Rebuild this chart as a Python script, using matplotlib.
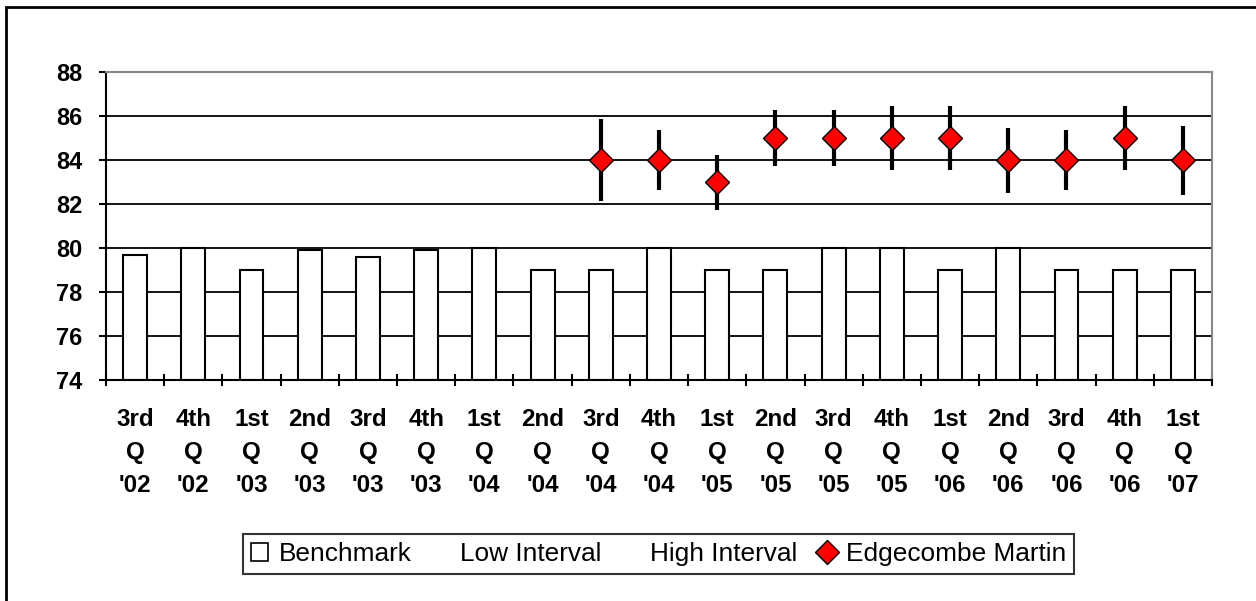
import matplotlib
matplotlib.use("Agg")
import matplotlib.pyplot as plt
import numpy as np
from matplotlib.patches import Patch, Rectangle
from matplotlib.lines import Line2D

plt.rcParams['font.family'] = ['Liberation Sans', 'DejaVu Sans']

categories = ["3rd\nQ\n'02", "4th\nQ\n'02", "1st\nQ\n'03", "2nd\nQ\n'03", "3rd\nQ\n'03",
              "4th\nQ\n'03", "1st\nQ\n'04", "2nd\nQ\n'04", "3rd\nQ\n'04", "4th\nQ\n'04",
              "1st\nQ\n'05", "2nd\nQ\n'05", "3rd\nQ\n'05", "4th\nQ\n'05", "1st\nQ\n'06",
              "2nd\nQ\n'06", "3rd\nQ\n'06", "4th\nQ\n'06", "1st\nQ\n'07"]
benchmark = [79.7, 80, 79, 79.9, 79.6, 79.9, 80, 79, 79, 80, 79, 79, 80, 80, 79, 80, 79, 79, 79]
edgecombe_idx = [8, 9, 10, 11, 12, 13, 14, 15, 16, 17, 18]
edgecombe = [84, 84, 83, 85, 85, 85, 85, 84, 84, 85, 84]
high_interval = [85.86, 85.36, 84.25, 86.27, 86.27, 86.45, 86.45, 85.45, 85.36, 86.45, 85.56]
low_interval = [82.12, 82.62, 81.72, 83.71, 83.71, 83.53, 83.53, 82.52, 82.62, 83.53, 82.42]
yticks = [74, 76, 78, 80, 82, 84, 86, 88]

W, H = 1256, 601
fig = plt.figure(figsize=(W/100, H/100), dpi=100)
ax = fig.add_axes([106/W, 1-380/H, (1212-106)/W, (380-72)/H])

x = np.arange(len(categories))
ax.bar(x, [b - 74 for b in benchmark], bottom=74, width=0.41, color='white',
       edgecolor='black', linewidth=1.5, zorder=2)

ex = np.array(edgecombe_idx)
ev = np.array(edgecombe)
yerr = [ev - np.array(low_interval), np.array(high_interval) - ev]
ax.errorbar(ex, ev, yerr=yerr, fmt='none', ecolor='black', elinewidth=3, capsize=0, zorder=3)
ax.plot(ex, ev, linestyle='none', marker='D', markersize=12, markerfacecolor='#ff0000',
        markeredgecolor='black', markeredgewidth=1.0, zorder=4)

ax.set_xlim(-0.5, len(categories) - 0.5)
ax.set_ylim(74, 88)
ax.set_yticks(yticks)
ax.set_yticklabels([str(t) for t in yticks], fontsize=17, fontweight='bold')
ax.yaxis.grid(True, color='black', linewidth=1.3, zorder=0)
ax.set_axisbelow(True)

ax.set_xticks(x)
ax.set_xticklabels(categories, fontsize=17.4, fontweight='bold', linespacing=1.56)
ax.set_xticks(np.arange(-0.5, len(categories)), minor=True)
ax.tick_params(axis='x', which='major', length=0, pad=20)
ax.tick_params(axis='x', which='minor', length=8, direction='inout', width=1.5)
ax.tick_params(axis='y', which='major', length=5, width=1.5, direction='out', pad=12)

for s in ['left', 'bottom']:
    ax.spines[s].set_color('black')
    ax.spines[s].set_linewidth(1.5)
for s in ['top', 'right']:
    ax.spines[s].set_color('#888888')
    ax.spines[s].set_linewidth(1.5)

handles = [Patch(facecolor='white', edgecolor='black', linewidth=1.2),
           Line2D([], [], linestyle='none'),
           Line2D([], [], linestyle='none'),
           Line2D([], [], linestyle='none', marker='D', markersize=12,
                  markerfacecolor='#ff0000', markeredgecolor='black')]
labels = ['Benchmark', 'Low Interval', 'High Interval', 'Edgecombe Martin']
leg = fig.legend(handles, labels, ncol=4, loc='center', bbox_to_anchor=(658.5/W, 1-554/H),
                 fontsize=18.9, frameon=True, fancybox=False, edgecolor='black',
                 handlelength=0.65, handleheight=0.65, handletextpad=0.4, columnspacing=0.8,
                 borderpad=0.3, borderaxespad=0)
leg.get_frame().set_linewidth(1.5)

fig.patches.append(Rectangle((6/W, -0.2), 2, 1.2 - 7/H, transform=fig.transFigure,
                             fill=False, edgecolor='black', linewidth=2))

fig.savefig('out.png', dpi=100)
